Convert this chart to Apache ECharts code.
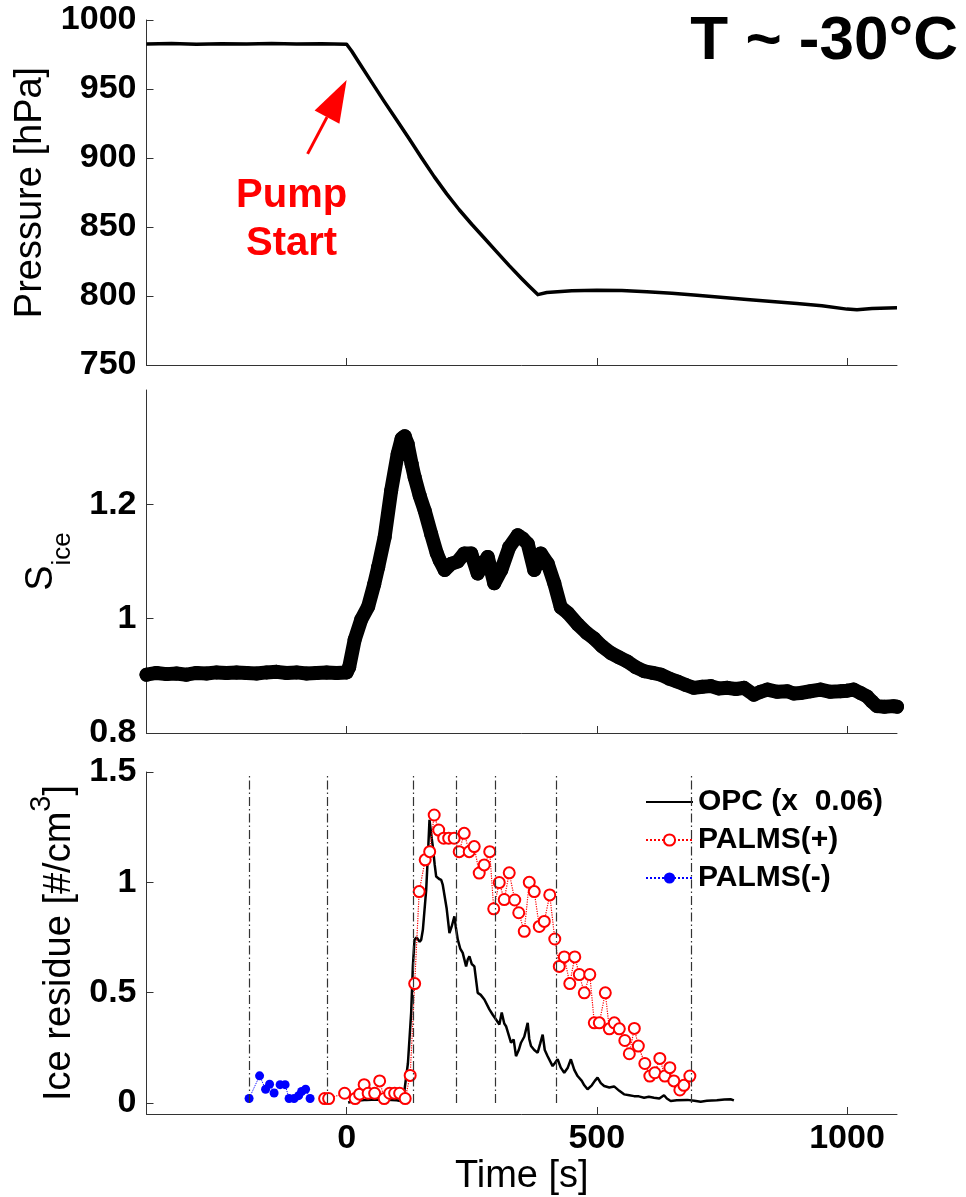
<!DOCTYPE html>
<html><head><meta charset="utf-8">
<script src="https://cdn.jsdelivr.net/npm/echarts@6/dist/echarts.min.js"></script>
<style>html,body{margin:0;padding:0;background:#fff}#c{width:966px;height:1197px}</style>
</head><body><div id="c"></div>
<script>
const FONT = '"Liberation Sans", Arial, Helvetica, sans-serif';

// ---- Panel 1: chamber pressure [hPa]
const pressT = [-400,-350,-300,-250,-200,-150,-100,-50,0,10,25,50,75,100,125,150,175,200,225,250,275,300,325,350,365,382,400,450,500,550,600,650,700,800,900,950,1000,1020,1050,1100];
const pressV = [982.6,982.9,982.5,982.8,982.6,982.9,982.6,982.8,982.4,977.5,969,955,941,927.5,914,900,886.5,874,862.5,852,842,832,822,812.5,807,801,802.5,803.8,804.2,804,803,802,800.5,797.5,794.5,793,790.5,790,791,791.5];

// ---- Panel 2: S_ice
const sT = [-400,-380,-360,-340,-320,-300,-280,-260,-240,-220,-200,-180,-160,-140,-120,-100,-80,-60,-40,-20,0,5,16,29,43,55,63,76,89,102,110,116,122,130,136,146,156,169,180,186,196,209,222,235,249,262,272,282,295,309,325,342,352,362,375,388,402,415,428,442,462,480,495,510,528,545,561,578,595,612,628,645,661,678,694,711,728,744,761,778,794,814,827,841,861,881,894,907,927,947,967,987,1000,1013,1027,1040,1050,1060,1075,1093,1100];
const sV = [0.902,0.905,0.903,0.904,0.902,0.905,0.904,0.906,0.905,0.906,0.905,0.904,0.906,0.907,0.905,0.906,0.904,0.905,0.906,0.905,0.906,0.915,0.963,0.998,1.021,1.06,1.09,1.143,1.224,1.288,1.315,1.319,1.305,1.27,1.247,1.215,1.189,1.148,1.115,1.102,1.085,1.096,1.1,1.114,1.114,1.079,1.095,1.108,1.062,1.085,1.125,1.146,1.14,1.131,1.085,1.114,1.096,1.062,1.02,1.01,0.99,0.975,0.965,0.952,0.94,0.932,0.925,0.915,0.908,0.905,0.902,0.895,0.89,0.884,0.879,0.881,0.882,0.878,0.879,0.877,0.879,0.867,0.872,0.876,0.872,0.873,0.869,0.870,0.873,0.876,0.872,0.873,0.874,0.876,0.870,0.864,0.855,0.847,0.846,0.847,0.846];

// ---- Panel 3: ice residues
const opcT = [3,20,40,60,80,100,110,113,115,122.5,129,132.4,135.7,140,143.7,146,149,152.4,159,163,165.6,167.5,170,172.3,176,179,185,189,192,195.5,200,205.5,210,215.4,218,222.2,227,232,238.8,242,245.4,250,255.3,262,268,275.3,285.3,292,298.6,305.3,310,315,318.6,328.5,333.8,338.5,344,348.5,355,361.9,365,368.5,375,381.8,387,391.8,396,401.7,411.7,416,421.7,428,434.9,442,448.2,455,461.6,470,475,481.5,490,496,501.5,508,514.7,525,534.6,545,554.5,565,574.5,584,594.5,604,614.4,625,634.4,640,647.7,660,681,695,707.6,720,740,755,767.4,774];
const opcV = [0.002,0.01,0.014,0.016,0.015,0.012,0.008,0.012,0.047,0.18,0.41,0.62,0.74,0.75,0.755,0.73,0.74,0.785,0.966,1.15,1.283,1.28,1.2,1.162,1.08,1.026,1.015,1.011,0.99,0.981,0.88,0.77,0.8,0.846,0.8,0.74,0.7,0.68,0.619,0.65,0.665,0.63,0.619,0.499,0.49,0.469,0.424,0.4,0.378,0.356,0.41,0.36,0.348,0.273,0.288,0.212,0.24,0.273,0.3,0.363,0.29,0.258,0.24,0.228,0.27,0.31,0.24,0.212,0.167,0.18,0.198,0.16,0.137,0.16,0.198,0.15,0.122,0.1,0.08,0.062,0.08,0.1,0.115,0.09,0.077,0.07,0.075,0.055,0.039,0.035,0.031,0.03,0.024,0.028,0.024,0.02,0.035,0.02,0.009,0.012,0.014,0.01,0.006,0.01,0.012,0.016,0.017,0.012];
const posT = [-44,-36,-4,17,26,35,43,56,66,75,86,96,106,117,127,136,145,157,166,175,184,194,204,215,225,235,245,255,265,275,286,294,305,315,325,336,344,355,365,375,385,395,406,416,425,435,446,456,465,475,486,495,505,517,525,535,545,556,565,575,583,596,606,616,626,636,646,654,666,674,686];
const posV = [0.02,0.02,0.044,0.02,0.04,0.083,0.044,0.044,0.1,0.02,0.044,0.044,0.044,0.02,0.125,0.541,0.958,1.102,1.139,1.305,1.237,1.2,1.2,1.2,1.139,1.222,1.139,1.162,1.042,1.079,1.139,0.88,0.999,0.922,1.043,0.92,0.862,0.778,1.0,0.958,0.8,0.823,0.943,0.743,0.619,0.662,0.541,0.662,0.582,0.499,0.582,0.363,0.363,0.499,0.336,0.363,0.336,0.283,0.223,0.338,0.258,0.179,0.122,0.137,0.202,0.122,0.16,0.1,0.059,0.08,0.122];
const negT = [-195,-174,-162,-154,-145,-133,-123,-115,-105,-96,-90,-82,-73];
const negV = [0.02,0.123,0.062,0.085,0.045,0.083,0.083,0.02,0.02,0.033,0.052,0.062,0.02];
const vLines = [-195,-39,134,220,297,418,689];

// ---- tick labels
const xTicks = [0,500,1000];
const y2Ticks = [0.8,1,1.2];
const y3Ticks = [0,0.5,1,1.5];

const zip = (a,b)=>a.map((v,i)=>[v,b[i]]);
const fmt = v => String(v);
const axisCol = '#333';
const labelStyle = {fontSize:34,fontWeight:'bold',color:'#000',fontFamily:FONT,formatter:fmt};
const nameStyle = {fontSize:38,color:'#000',fontFamily:FONT};

function mkX(i, show){
  return {type:'value',gridIndex:i,min:-400,max:1100,
    axisLine:{show:true,onZero:false,lineStyle:{color:axisCol,width:1}},
    axisTick:{show:true,inside:true,length:7,customValues:xTicks,lineStyle:{color:axisCol}},
    axisLabel:Object.assign({show:show,margin:8,customValues:xTicks},labelStyle),
    splitLine:{show:false},
    name: show ? 'Time [s]' : '', nameLocation:'middle', nameGap:44, nameTextStyle:nameStyle};
}
function mkY(i, o){
  return Object.assign({type:'value',gridIndex:i,
    axisLine:{show:true,onZero:false,lineStyle:{color:axisCol,width:1}},
    axisTick:{show:true,inside:true,length:7,lineStyle:{color:axisCol}},
    axisLabel:Object.assign({margin:10},labelStyle),
    splitLine:{show:false},nameLocation:'middle',nameTextStyle:nameStyle}, o);
}

const chart = echarts.init(document.getElementById('c'));
const option = {
  backgroundColor:'#fff',
  animation:false,
  grid:[
    {left:146.5,right:69,top:20,height:345},
    {left:146.5,right:69,top:390,height:343},
    {left:146.5,right:69,top:772,height:343}
  ],
  xAxis:[mkX(0,false),mkX(1,false),mkX(2,true)],
  yAxis:[
    mkY(0,{min:750,max:1000,interval:50,name:'Pressure [hPa]',nameGap:97}),
    mkY(1,{min:0.8,max:1.4,name:'{s|S}{sub|ice}',nameGap:71,
      axisTick:{show:true,inside:true,length:7,customValues:y2Ticks,lineStyle:{color:axisCol}},
      axisLabel:Object.assign({margin:10,customValues:y2Ticks},labelStyle),
      nameTextStyle:Object.assign({},nameStyle,{rich:{
        s:{fontSize:38,fontFamily:FONT,color:'#000'},
        sub:{fontSize:26,fontFamily:FONT,color:'#000',padding:[42,0,0,0]}}})}),
    mkY(2,{min:-0.05,max:1.5,name:'{m|Ice residue [#/cm}{sup|3}{m|]}',nameGap:55,
      axisTick:{show:true,inside:true,length:7,customValues:y3Ticks,lineStyle:{color:axisCol}},
      axisLabel:Object.assign({margin:10,customValues:y3Ticks},labelStyle),
      nameTextStyle:Object.assign({},nameStyle,{rich:{
        m:{fontSize:38,fontFamily:FONT,color:'#000'},
        sup:{fontSize:29,fontFamily:FONT,color:'#000',padding:[0,0,34,0]}}})})
  ],
  legend:{
    data:[{name:'OPC (x  0.06)',itemStyle:{opacity:0}},'PALMS(+)','PALMS(-)'],
    orient:'vertical',left:640,top:775,align:'left',
    backgroundColor:'#fff',padding:[12,12,8,5],itemGap:8,itemWidth:47,itemHeight:14,
    textStyle:{fontSize:30,fontWeight:'bold',color:'#000',fontFamily:FONT,lineHeight:30},
    selectedMode:false
  },
  series:[
    {name:'Pressure',type:'line',xAxisIndex:0,yAxisIndex:0,data:zip(pressT,pressV),
      symbol:'none',lineStyle:{color:'#000',width:3.5,join:'round'},z:3},
    {name:'Sice',type:'line',xAxisIndex:1,yAxisIndex:1,data:zip(sT,sV),
      symbol:'circle',symbolSize:14,itemStyle:{color:'#000'},
      lineStyle:{color:'#000',width:14,join:'round',cap:'round'},z:3},
    {name:'OPC (x  0.06)',type:'line',xAxisIndex:2,yAxisIndex:2,data:zip(opcT,opcV),
      symbol:'none',lineStyle:{color:'#000',width:2.5},itemStyle:{color:'#000'},z:3,
      markLine:{silent:true,symbol:['none','none'],label:{show:false},animation:false,
        lineStyle:{color:'#333',width:1.2,type:[9,3,1.5,3]},
        data:vLines.map(v=>[{coord:[v,0]},{coord:[v,1.486]}])}},
    {name:'PALMS(+)',type:'line',xAxisIndex:2,yAxisIndex:2,data:zip(posT,posV),
      symbol:'emptyCircle',symbolSize:11,
      itemStyle:{color:'#ff0000',borderColor:'#ff0000',borderWidth:2},
      lineStyle:{color:'#ff0000',width:1.2,type:'dotted'},z:4},
    {name:'PALMS(-)',type:'line',xAxisIndex:2,yAxisIndex:2,data:zip(negT,negV),
      symbol:'circle',symbolSize:9,itemStyle:{color:'#0000ff'},
      lineStyle:{color:'#0000ff',width:1,type:'dotted'},z:4}
  ]
};
chart.setOption(option);

// annotations anchored to data coordinates of panel 1
const px = pt => chart.convertToPixel({gridIndex:0}, pt);
const tail = px([-78,903]), tip = px([0,956.5]);
const dx = tip[0]-tail[0], dy = tip[1]-tail[1], L = Math.hypot(dx,dy);
const ux = dx/L, uy = dy/L, headL = 42, headW = 14;
const bx = tip[0]-ux*headL, by = tip[1]-uy*headL;
const pumpPos = px([-110,872.5]), startPos = px([-110,837.7]);
chart.setOption({graphic:[
  {type:'line',shape:{x1:tail[0],y1:tail[1],x2:bx,y2:by},style:{stroke:'#ff0000',lineWidth:3}},
  {type:'polygon',shape:{points:[tip,[bx-uy*headW,by+ux*headW],[bx+uy*headW,by-ux*headW]]},style:{fill:'#ff0000'}},
  {type:'text',x:pumpPos[0],y:pumpPos[1],style:{text:'Pump',font:'bold 40px '+FONT,fill:'#ff0000',align:'center',verticalAlign:'middle'}},
  {type:'text',x:startPos[0],y:startPos[1],style:{text:'Start',font:'bold 40px '+FONT,fill:'#ff0000',align:'center',verticalAlign:'middle'}},
  {type:'text',x:958,y:42,style:{text:'T ~ -30°C',font:'bold 62px '+FONT,fill:'#000',align:'right',verticalAlign:'middle'}}
]});
</script>
</body></html>
